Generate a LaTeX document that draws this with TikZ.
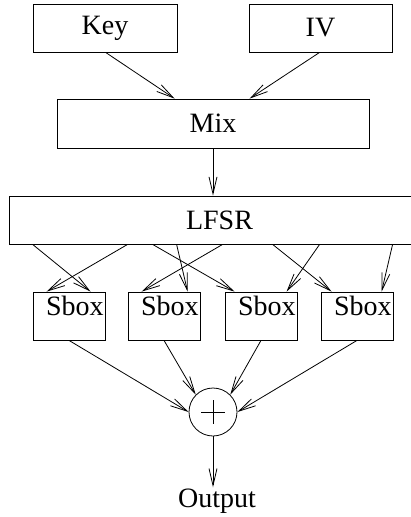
\documentclass[tikz,border=0pt]{standalone}
\usepackage{fontspec}
\setmainfont{Liberation Serif}
\usetikzlibrary{arrows.meta,calc}
\begin{document}
\begin{tikzpicture}[x=1pt,y=-1pt,
  every node/.style={font=\fontsize{28}{32}\selectfont},
  blk/.style={draw, line width=0.8pt, inner sep=0pt},
  arr/.style={draw, line width=0.8pt, -{Straight Barb[length=17pt,width=8pt,line width=0.8pt]}},
  sboxtxt/.style={anchor=north east, inner sep=0pt}]
\useasboundingbox (0,0) rectangle (411,517);
\node[blk, minimum width=144pt, minimum height=48pt] (key) at (105,28) {Key};
\node[blk, minimum width=143pt, minimum height=48pt] (iv) at (320.5,28) {IV};
\node[blk, minimum width=312pt, minimum height=49pt] (mix) at (213,123.5) {Mix};
\node[blk, minimum width=421pt, minimum height=48pt] (lfsr) at (219.5,220) {LFSR};
\foreach \i/\x in {1/69,2/164,3/261,4/357}{
  \node[blk, minimum width=72pt, minimum height=48pt] (s\i) at (\x,316) {};
  \node[sboxtxt] (t\i) at ($(s\i.north east)+(-1.5,4)$) {Sbox};
}
\node[draw, circle, line width=0.8pt, minimum size=48pt, inner sep=0pt] (xor) at (213,412) {};
\draw[line width=0.8pt] ($(xor.center)+(-12,0)$) -- ($(xor.center)+(12,0)$)
      ($(xor.center)+(0,-12)$) -- ($(xor.center)+(0,12)$);
\node[inner sep=1pt, anchor=base] (out) at (217,507) {Output};

\draw[arr] ($(key.south west)+(73,0)$) -- ($(mix.north west)+(118,0)$);
\draw[arr] ($(iv.south west)+(71,0)$) -- ($(mix.north west)+(193,0)$);
\draw[arr] (mix.south) -- (mix.south |- lfsr.north);

\draw[arr] ($(lfsr.south west)+(24,0)$)  -- ($(s1.north west)+(58,0)$);
\draw[arr] ($(lfsr.south west)+(119,0)$) -- ($(s1.north west)+(14,0)$);
\draw[arr] ($(lfsr.south west)+(144,0)$) -- ($(s3.north west)+(10,0)$);
\draw[arr] ($(lfsr.south west)+(168,0)$) -- ($(s2.north west)+(60,0)$);
\draw[arr] ($(lfsr.south west)+(214,0)$) -- ($(s2.north west)+(14,0)$);
\draw[arr] ($(lfsr.south west)+(264,0)$) -- ($(s4.north west)+(11,0)$);
\draw[arr] ($(lfsr.south west)+(311,0)$) -- ($(s3.north west)+(62,0)$);
\draw[arr] ($(lfsr.south west)+(384,0)$) -- ($(s4.north west)+(61,0)$);

\draw[arr] (s1.south) -- (xor.west);
\draw[arr] (s2.south) -- (xor.north west);
\draw[arr] (s3.south) -- (xor.north east);
\draw[arr] (s4.south) -- (xor.east);
\draw[arr] (xor.south) -- (xor.south |- out.north);
\end{tikzpicture}
\end{document}
